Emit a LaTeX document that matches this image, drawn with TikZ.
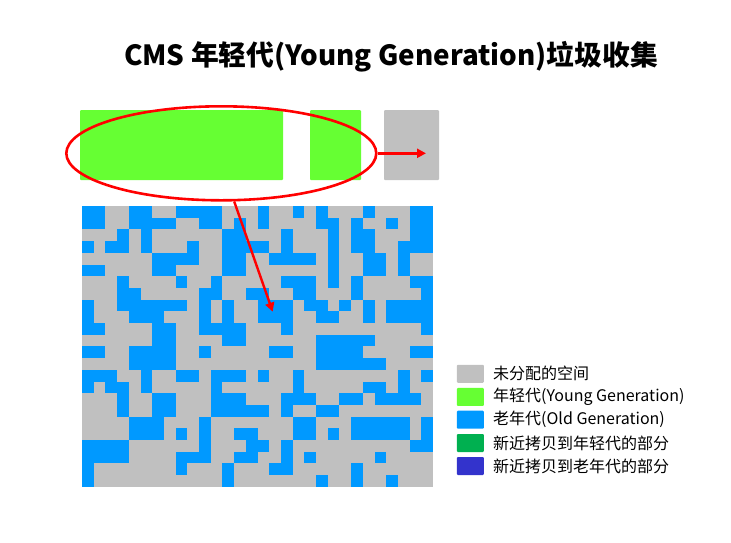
\documentclass[tikz,border=0pt]{standalone}
\usepackage{fontspec}
\setmainfont{Noto Sans CJK SC}
\usetikzlibrary{shapes.geometric,arrows.meta}
\definecolor{ygreen}{HTML}{66FF33}
\definecolor{freegray}{HTML}{C0C0C0}
\definecolor{oldblue}{HTML}{0099FF}
\definecolor{newgreen}{HTML}{00B050}
\definecolor{newblue}{HTML}{3333CC}
\begin{document}
\begin{tikzpicture}[x=1pt,y=-1pt,
  region/.style={rounded corners=1pt},
  redline/.style={draw=red,line width=2.6pt},
  redarrow/.style={red,line width=2.4pt,-{Triangle[length=9pt,width=9pt]}},
  legbox/.style={rounded corners=1pt,minimum width=27pt,minimum height=18pt,inner sep=0pt},
  legtext/.style={anchor=west,inner sep=0pt,font=\fontsize{16}{18}\selectfont}]
\useasboundingbox[fill=white] (0,0) rectangle (731,542);
% title
\node[font=\fontsize{27.8}{32}\selectfont\bfseries] (title) at (391,56.5) {CMS 年轻代(Young Generation)垃圾收集};
% young generation regions
\fill[ygreen,region] (80,110) rectangle (283,180);
\fill[ygreen,region] (310,110) rectangle (361,180);
\fill[freegray,region] (384,110) rectangle (439,180);
% heap grid
\fill[freegray] (82,206) rectangle (433,487);
\foreach \r/\cols in {
 0/{0,1,4,5,8,9,10,11,15,18,20,24,28,29},
 1/{0,1,4,5,6,7,10,11,13,15,20,21,23,26,28,29},
 2/{3,5,12,13,17,21,23,24,28,29},
 3/{0,2,3,5,9,12,13,14,15,17,21,23,24,27,28,29},
 4/{6,7,8,9,12,13,16,17,18,19,21,24,25,27},
 5/{0,1,6,7,12,13,21,24,25,27},
 6/{3,8,11,17,18,19,21,23,28,29},
 7/{3,4,10,11,14,15,18,19,23,29},
 8/{0,3,4,5,6,7,8,10,12,15,16,17,19,20,22,24,26,27,28,29},
 9/{0,4,5,6,10,12,15,16,17,20,21,24,26,27,28,29},
 10/{0,1,6,7,10,11,12,13,17,29},
 11/{6,7,12,13,20,21,22,23,24},
 12/{0,1,4,5,6,7,10,16,17,20,21,22,23,28,29},
 13/{4,5,6,7,20,21,22,23,24,25},
 14/{0,1,2,5,8,9,11,12,13,15,18,27,29},
 15/{0,2,3,5,11,18,24,25,27},
 16/{3,6,7,11,12,13,17,18,19,22,23,25,26,27,28},
 17/{3,6,7,11,12,13,14,15,17,20,21},
 18/{4,5,6,10,18,19,23,24,25,26,27,29},
 19/{4,5,6,8,10,13,14,18,19,21,23,24,25,26,27,29},
 20/{0,1,2,3,10,14,15,17,28,29},
 21/{0,1,2,3,8,9,10,13,14,17,19,25},
 22/{0,8,12,16,17,23},
 23/{0,12,20,23,26}}{
  \foreach \c in \cols {
    \fill[oldblue] ({82+\c*11.7},{206+\r*11.7}) rectangle ++(11.7,11.7);
  }
}
% ellipse and arrows
\node[ellipse,redline,minimum width=310pt,minimum height=94pt,inner sep=0pt] (yg) at (221.3,153.3) {};
\coordinate (survivor) at (426,153.3);
\coordinate (oldtarget) at (272.7,311.7);
\draw[redarrow] (yg.east) -- (survivor);
\draw[redarrow] (yg.-75) -- (oldtarget);
% legend
\node[legbox,fill=freegray] (l1) at (470.4,373.8) {};
\node[legbox,fill=ygreen] (l2) at (470.4,396.9) {};
\node[legbox,fill=oldblue] (l3) at (470.4,419.7) {};
\node[legbox,fill=newgreen] (l4) at (470.4,443) {};
\node[legbox,fill=newblue] (l5) at (470.4,466) {};
\node[legtext] (t1) at (493,373.8) {未分配的空间};
\node[legtext] (t2) at (493,396.9) {年轻代(Young Generation)};
\node[legtext] (t3) at (493,419.7) {老年代(Old Generation)};
\node[legtext] (t4) at (493,443) {新近拷贝到年轻代的部分};
\node[legtext] (t5) at (493,466) {新近拷贝到老年代的部分};
\end{tikzpicture}
\end{document}
